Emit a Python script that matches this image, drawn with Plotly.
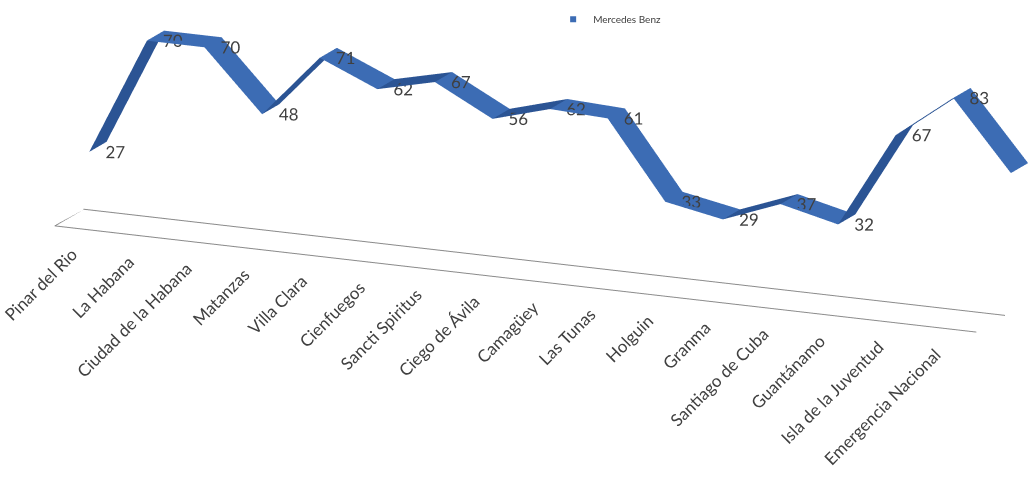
import math
import plotly.graph_objects as go

# Provinces along the category axis
categories = [
    "Pinar del Rio", "La Habana", "Ciudad de la Habana", "Matanzas",
    "Villa Clara", "Cienfuegos", "Sancti Spiritus", "Ciego de Ávila",
    "Camagüey", "Las Tunas", "Holguin", "Granma", "Santiago de Cuba",
    "Guantánamo", "Isla de la Juventud", "Emergencia Nacional",
]
# Mercedes Benz counts per province
mercedes_benz = [27, 70, 70, 48, 71, 62, 67, 56, 62, 61, 33, 29, 37, 32, 67, 83]
# the series runs on past the last labelled province (cut by the frame)
trailing_value = [58]

series_name = "Mercedes Benz"
ribbon_color = "#3C6CB4"      # flat / falling stretches
ribbon_shadow = "#2B5494"     # rising stretches, seen from below
text_color = "#404040"
font_family = "Lato, 'Open Sans', sans-serif"

values = mercedes_benz + trailing_value
xs = list(range(len(values)))
n = len(values)
n_cat = len(categories)

# ribbon: a strip following the series, between two depth positions
y_front, y_back = 0.2, 0.8
vx, vy, vz = [], [], []
for x, v in zip(xs, values):
    vx += [x, x]
    vy += [y_front, y_back]
    vz += [v, v]
ti, tj, tk, face_colors = [], [], [], []
for s in range(n - 1):
    a, b, c, d = 2 * s, 2 * s + 1, 2 * s + 2, 2 * s + 3
    ti += [a, b]
    tj += [b, d]
    tk += [c, c]
    shade = ribbon_shadow if values[s + 1] > values[s] else ribbon_color
    face_colors += [shade, shade]

fig = go.Figure()

fig.add_trace(go.Mesh3d(
    x=vx, y=vy, z=vz, i=ti, j=tj, k=tk,
    facecolor=face_colors, flatshading=True,
    lighting=dict(ambient=1.0, diffuse=0.0, specular=0.0, roughness=1.0, fresnel=0.0),
    hoverinfo="skip", showlegend=False,
))

# floor outline under the categories
fig.add_trace(go.Scatter3d(
    x=[n_cat - 0.5, -0.5, -0.5, n_cat - 0.5],
    y=[1, 1, 0, 0],
    z=[0, 0, 0, 0],
    mode="lines", line=dict(color="#8A8A8A", width=2),
    hoverinfo="skip", showlegend=False,
))

# data labels
fig.add_trace(go.Scatter3d(
    x=xs[:n_cat], y=[y_front] * n_cat, z=mercedes_benz,
    mode="text", text=[str(v) for v in mercedes_benz],
    textposition="middle right",
    textfont=dict(family=font_family, size=17, color=text_color),
    hoverinfo="skip", showlegend=False,
))

# legend entry
fig.add_trace(go.Scatter3d(
    x=[None], y=[None], z=[None], mode="markers", name=series_name,
    marker=dict(symbol="square", size=6, color=ribbon_color),
    showlegend=True,
))

annotations = [
    dict(x=i, y=0, z=0, text=name, textangle=-45, showarrow=False,
         xanchor="right", yanchor="top", yshift=-12,
         font=dict(family=font_family, size=17, color=text_color))
    for i, name in enumerate(categories)
]

# viewing direction: azimuth / elevation in degrees
az, el = math.radians(24), math.radians(15)
direction = (math.sin(az) * math.cos(el), -math.cos(az) * math.cos(el), math.sin(el))
center = dict(x=-0.121, y=-0.161, z=-0.366)
dist = 2.0
eye = dict(x=center["x"] + dist * direction[0],
           y=center["y"] + dist * direction[1],
           z=center["z"] + dist * direction[2])

hidden = dict(visible=False, showbackground=False, showgrid=False, zeroline=False)
fig.update_layout(
    width=1032, height=485,
    margin=dict(l=0, r=0, t=0, b=0),
    paper_bgcolor="white",
    showlegend=True,
    legend=dict(x=0.536, y=0.99, xanchor="left", yanchor="top", itemwidth=30,
                font=dict(family=font_family, size=10, color=text_color),
                bgcolor="rgba(0,0,0,0)"),
    scene=dict(
        domain=dict(x=[0, 1], y=[0, 1]),
        xaxis=dict(range=[-0.5, n - 0.5], **hidden),
        yaxis=dict(range=[0, 1], **hidden),
        zaxis=dict(range=[0, 90], **hidden),
        aspectmode="manual",
        aspectratio=dict(x=4.42, y=0.291, z=1.053),
        camera=dict(eye=eye, center=center, up=dict(x=0, y=0, z=1),
                    projection=dict(type="orthographic")),
        annotations=annotations,
    ),
)

fig.write_html("out.html")
